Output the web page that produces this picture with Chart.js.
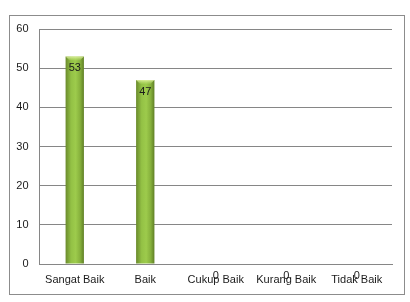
<!DOCTYPE html>
<html>
<head>
<meta charset="utf-8">
<script src="https://cdn.jsdelivr.net/npm/chart.js@4"></script>
<style>
  html, body { margin: 0; padding: 0; background: #fff; }
  #wrap { width: 410px; height: 302px; position: relative; }
</style>
</head>
<body>
<div id="wrap"><canvas id="chart" width="410" height="302"></canvas></div>
<script>
// 数据
const categories = ['Sangat Baik', 'Baik', 'Cukup Baik', 'Kurang Baik', 'Tidak Baik'];
const values = [53, 47, 0, 0, 0];
const yTicks = [0, 10, 20, 30, 40, 50, 60];

const FONT = 'Liberation Sans';
const BAR_PCT = 0.26;

// 柱子渐变色
function barFill(ctx) {
  const chart = ctx.chart;
  const xs = chart.scales.x;
  if (!xs || ctx.dataIndex === undefined) return '#8db544';
  const cx = xs.getPixelForValue(ctx.dataIndex);
  const w = (xs.width / categories.length) * BAR_PCT;
  if (!isFinite(cx) || !isFinite(w) || w <= 0) return '#8db544';
  const g = chart.ctx.createLinearGradient(cx - w / 2, 0, cx + w / 2, 0);
  g.addColorStop(0, '#6a8a2c');
  g.addColorStop(0.3, '#93c145');
  g.addColorStop(0.55, '#9dcb4c');
  g.addColorStop(0.8, '#86b03c');
  g.addColorStop(1, '#5f7f25');
  return g;
}

// 外框
const frame = {
  id: 'frame',
  beforeDraw(chart) {
    const c = chart.ctx;
    c.save();
    c.strokeStyle = '#8c8c8c';
    c.lineWidth = 1;
    c.strokeRect(9.5, 15.5, 395, 279);
    c.restore();
  }
};

// 数值标签
const valueLabels = {
  id: 'valueLabels',
  afterDatasetsDraw(chart) {
    const c = chart.ctx;
    const meta = chart.getDatasetMeta(0);
    c.save();
    c.font = '11px "' + FONT + '"';
    c.textAlign = 'center';
    c.textBaseline = 'middle';
    meta.data.forEach((bar, i) => {
      // 柱顶高光
      if (values[i] > 0) {
        const w = bar.width;
        const g = c.createLinearGradient(0, bar.y, 0, bar.y + 5);
        g.addColorStop(0, 'rgba(230,245,170,0.9)');
        g.addColorStop(1, 'rgba(180,220,100,0)');
        c.fillStyle = g;
        c.beginPath();
        c.moveTo(bar.x - w / 2, bar.y);
        c.lineTo(bar.x + w / 2, bar.y);
        c.lineTo(bar.x + w / 2 - 4, bar.y + 4);
        c.lineTo(bar.x - w / 2 + 4, bar.y + 4);
        c.closePath();
        c.fill();
      }
      c.fillStyle = '#1a1a1a';
      c.fillText(String(values[i]), bar.x, bar.y + 12);
    });
    c.restore();
  }
};

new Chart(document.getElementById('chart'), {
  type: 'bar',
  data: {
    labels: categories,
    datasets: [{
      data: values,
      backgroundColor: barFill,
      borderWidth: 0,
      barPercentage: BAR_PCT,
      categoryPercentage: 1
    }]
  },
  options: {
    responsive: false,
    animation: false,
    layout: { padding: { left: 0, right: 18, top: 29, bottom: 0 } },
    plugins: { legend: { display: false }, tooltip: { enabled: false } },
    scales: {
      x: {
        grid: { display: false, drawTicks: false },
        border: { color: '#868686', width: 1 },
        ticks: { color: '#1a1a1a', font: { family: FONT, size: 11 }, padding: 9, maxRotation: 0, autoSkip: false },
        afterFit(scale) { scale.height = 38; }
      },
      y: {
        min: 0,
        max: 60,
        afterBuildTicks(scale) { scale.ticks = yTicks.map(v => ({ value: v })); },
        grid: { color: '#868686', drawTicks: false, lineWidth: 1 },
        border: { color: '#868686', width: 1 },
        ticks: { color: '#1a1a1a', font: { family: FONT, size: 11 }, padding: 11 },
        afterFit(scale) { scale.width = 39.5; }
      }
    }
  },
  plugins: [frame, valueLabels]
});
</script>
</body>
</html>
